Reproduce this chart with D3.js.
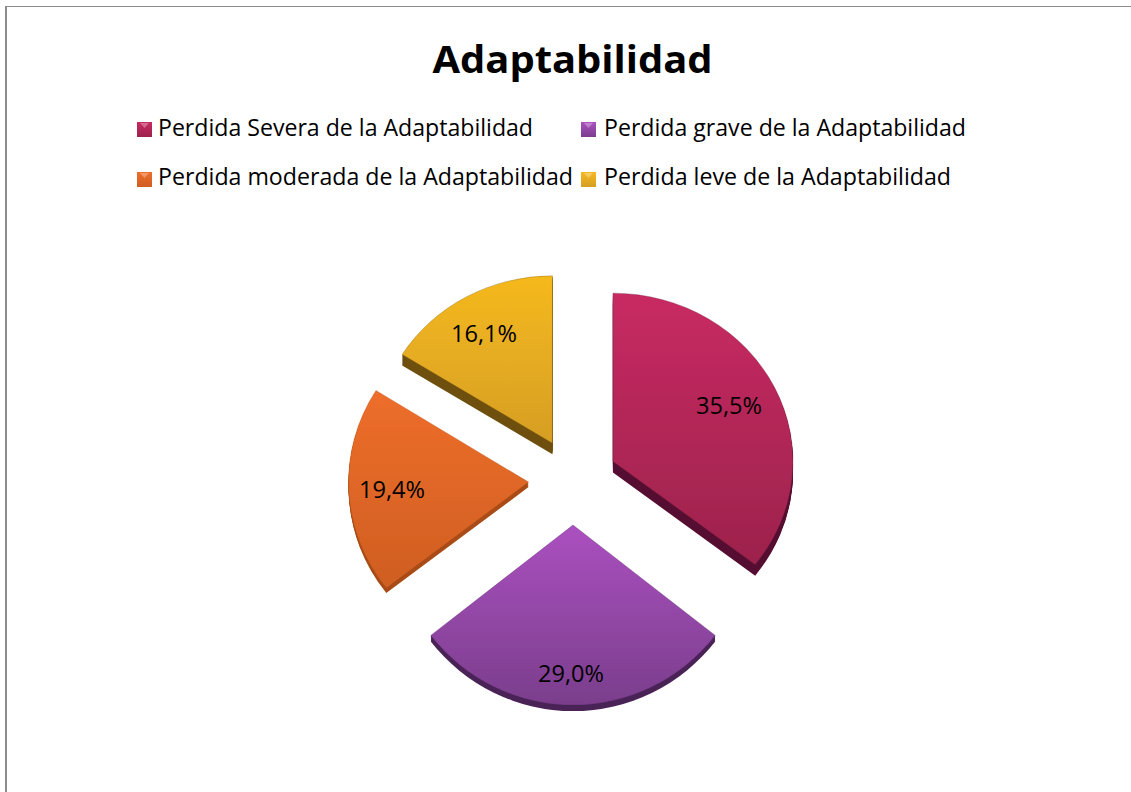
<!DOCTYPE html>
<html><head><meta charset="utf-8">
<script src="https://cdn.jsdelivr.net/npm/d3@7"></script>
<style>html,body{margin:0;padding:0;background:#fff}svg{display:block}</style>
</head><body><script>
const titleText = "Adaptabilidad";
const categories = ["Perdida Severa de la Adaptabilidad","Perdida grave de la Adaptabilidad","Perdida moderada de la Adaptabilidad","Perdida leve de la Adaptabilidad"];
const percentages = [35.5, 29.0, 19.4, 16.1];
const percentLabels = ["35,5%","29,0%","19,4%","16,1%"];
const topColors = ["#c82a62","#ab50c0","#ee6e2a","#f5b91e"];
const bottomColors = ["#9c234c","#7a3e8c","#cf5e22","#d69e24"];
const sideColors = ["#571030","#4a2256","#a84c14","#6e4f0e"];

const W=1131,H=792, cx=573, cy=480, rx=180, explode=44.5;
const font="'Open Sans', 'Noto Sans', sans-serif";
const svg=d3.select("body").append("svg").attr("width",W).attr("height",H);
const defs=svg.append("defs");
topColors.forEach((c,i)=>{
  const g=defs.append("linearGradient").attr("id","g"+i).attr("x1",0).attr("y1",0).attr("x2",0).attr("y2",1);
  g.append("stop").attr("offset",0).attr("stop-color",c);
  g.append("stop").attr("offset",1).attr("stop-color",bottomColors[i]);
});
const blur=defs.append("filter").attr("id","soft").attr("x","-5%").attr("y","-5%").attr("width","110%").attr("height","110%");
blur.append("feGaussianBlur").attr("stdDeviation",0.6);

svg.append("line").attr("x1",6).attr("x2",W).attr("y1",6.5).attr("y2",6.5).attr("stroke","#8c8c8c");
svg.append("line").attr("x1",6).attr("x2",6).attr("y1",6).attr("y2",H).attr("stroke","#8c8c8c").attr("stroke-width",2);

svg.append("text").attr("x",572.5).attr("y",73).attr("text-anchor","middle")
  .attr("font-family",font).attr("font-weight",700).attr("font-size",37).attr("fill","#000")
  .attr("textLength",280).attr("lengthAdjust","spacingAndGlyphs").text(titleText);

const legendRows=[
 {x:137,y:122,t:158,b:136,w:375},{x:581,y:122,t:604,b:136,w:362},
 {x:137,y:172,t:158,b:185,w:415},{x:581,y:172,t:604,b:185,w:347}];
categories.forEach((c,i)=>{
  const p=legendRows[i], s=15;
  svg.append("rect").attr("x",p.x).attr("y",p.y).attr("width",s).attr("height",s).attr("fill",`url(#g${i})`);
  svg.append("path").attr("d",`M${p.x+3},${p.y+1}H${p.x+s-3}L${p.x+s/2},${p.y+6}Z`).attr("fill","#fff").attr("opacity",0.3);
  svg.append("text").attr("x",p.t).attr("y",p.b).attr("font-family",font).attr("font-size",23).attr("fill","#000")
    .attr("textLength",p.w).attr("lengthAdjust","spacingAndGlyphs").text(c);
});

const pie=d3.pie().sort(null).value(d=>d);
const arcs=pie(percentages);
const arc=d3.arc().innerRadius(0).outerRadius(rx);
const depth=[11,6,5,11];
const squash=[0.935,1,0.96,0.93];
const explodeShift=[[0,0],[0,3],[0,0],[1,0]];
const widthScale=[1,1,1,0.985];
[3,2,0,1].forEach(i=>{
  const d=arcs[i], mid=(d.startAngle+d.endAngle)/2;
  const ox=cx+explode*Math.sin(mid)+explodeShift[i][0], oy=cy-explode*Math.cos(mid)*0.945+explodeShift[i][1];
  const tf=k=>`translate(${ox},${oy+k}) scale(${widthScale[i]},${squash[i]})`;
  const g=svg.append("g").attr("filter","url(#soft)");
  d3.range(1,depth[i]+1).forEach(k=>{
    g.append("path").attr("d",arc(d)).attr("transform",tf(k)).attr("fill",sideColors[i]);
  });
  g.append("path").attr("d",arc(d)).attr("transform",tf(0)).attr("fill",`url(#g${i})`)
    .attr("stroke",sideColors[i]).attr("stroke-opacity",0.3).attr("stroke-width",1);
});
const labelPos=[[729,414],[571,682],[392,498],[484,342]];
arcs.forEach((d,i)=>{
  svg.append("text").attr("x",labelPos[i][0]).attr("y",labelPos[i][1]).attr("text-anchor","middle")
    .attr("font-family",font).attr("font-size",23).attr("fill","#000")
    .attr("textLength",66).attr("lengthAdjust","spacingAndGlyphs").text(percentLabels[i]);
});
</script></body></html>
